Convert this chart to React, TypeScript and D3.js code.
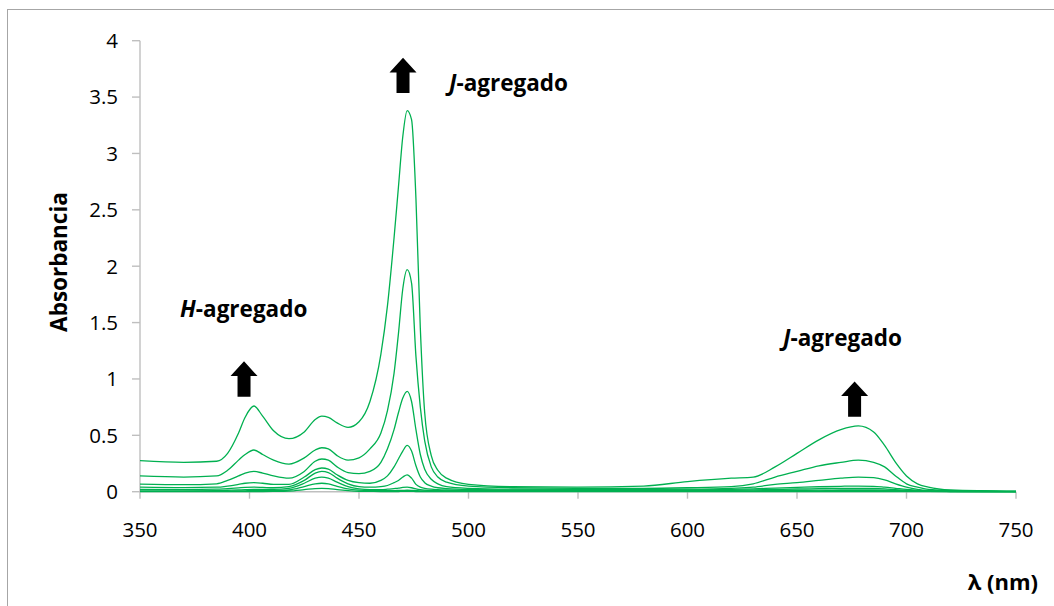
import React from "react";
import * as d3 from "d3";

const wavelengths = [350, 370, 385, 390, 395, 398, 402, 406, 411, 418, 425, 430, 433, 436, 440, 445, 450, 455, 460, 463, 466, 468, 470, 472, 474, 476, 478, 480, 483, 486, 490, 500, 520, 550, 580, 600, 620, 630, 640, 650, 660, 670, 678, 685, 690, 695, 700, 705, 710, 720, 750];

const s1 = [0.275, 0.26, 0.27, 0.34, 0.52, 0.66, 0.76, 0.67, 0.54, 0.47, 0.53, 0.64, 0.67, 0.66, 0.61, 0.57, 0.62, 0.8, 1.22, 1.65, 2.25, 2.7, 3.15, 3.38, 3.3, 2.6, 1.45, 0.7, 0.32, 0.19, 0.12, 0.065, 0.045, 0.04, 0.05, 0.09, 0.12, 0.13, 0.22, 0.34, 0.46, 0.55, 0.583, 0.53, 0.41, 0.26, 0.14, 0.07, 0.04, 0.015, 0.004];
const s2 = [0.14, 0.13, 0.14, 0.19, 0.28, 0.33, 0.37, 0.33, 0.28, 0.245, 0.3, 0.37, 0.39, 0.38, 0.32, 0.28, 0.3, 0.38, 0.52, 0.72, 1.05, 1.4, 1.8, 1.97, 1.85, 1.2, 0.75, 0.45, 0.22, 0.13, 0.085, 0.05, 0.035, 0.03, 0.03, 0.035, 0.045, 0.07, 0.13, 0.18, 0.23, 0.26, 0.28, 0.26, 0.22, 0.14, 0.07, 0.04, 0.02, 0.01, 0.003];
const s3 = [0.068, 0.062, 0.07, 0.1, 0.14, 0.165, 0.18, 0.165, 0.14, 0.12, 0.18, 0.27, 0.29, 0.28, 0.22, 0.17, 0.16, 0.18, 0.26, 0.38, 0.55, 0.7, 0.83, 0.89, 0.8, 0.55, 0.33, 0.2, 0.11, 0.07, 0.045, 0.03, 0.022, 0.02, 0.02, 0.022, 0.03, 0.04, 0.065, 0.08, 0.1, 0.12, 0.13, 0.125, 0.105, 0.07, 0.04, 0.02, 0.01, 0.005, 0.002];
const s4 = [0.04, 0.036, 0.04, 0.05, 0.065, 0.075, 0.08, 0.075, 0.065, 0.065, 0.13, 0.195, 0.21, 0.2, 0.15, 0.1, 0.08, 0.075, 0.1, 0.14, 0.22, 0.29, 0.36, 0.41, 0.36, 0.23, 0.13, 0.08, 0.05, 0.035, 0.028, 0.02, 0.016, 0.015, 0.015, 0.016, 0.02, 0.025, 0.032, 0.038, 0.044, 0.048, 0.05, 0.048, 0.04, 0.03, 0.02, 0.012, 0.008, 0.004, 0.001];
const s5 = [0.02, 0.018, 0.022, 0.028, 0.034, 0.038, 0.04, 0.038, 0.035, 0.045, 0.1, 0.165, 0.18, 0.17, 0.12, 0.07, 0.045, 0.04, 0.045, 0.055, 0.08, 0.1, 0.13, 0.15, 0.12, 0.065, 0.04, 0.03, 0.022, 0.018, 0.015, 0.012, 0.01, 0.01, 0.01, 0.011, 0.013, 0.016, 0.02, 0.024, 0.027, 0.03, 0.03, 0.029, 0.025, 0.018, 0.012, 0.007, 0.005, 0.003, 0.001];
const s6 = [0.008, 0.008, 0.01, 0.013, 0.016, 0.018, 0.02, 0.02, 0.02, 0.03, 0.075, 0.12, 0.13, 0.12, 0.085, 0.045, 0.025, 0.018, 0.018, 0.022, 0.028, 0.032, 0.038, 0.04, 0.035, 0.025, 0.018, 0.014, 0.011, 0.01, 0.008, 0.007, 0.006, 0.006, 0.006, 0.006, 0.007, 0.008, 0.01, 0.012, 0.014, 0.015, 0.016, 0.015, 0.013, 0.01, 0.007, 0.005, 0.003, 0.002, 0.001];
const s7 = [0.003, 0.003, 0.004, 0.005, 0.007, 0.008, 0.009, 0.009, 0.01, 0.015, 0.045, 0.07, 0.075, 0.07, 0.048, 0.025, 0.014, 0.01, 0.009, 0.009, 0.01, 0.011, 0.012, 0.013, 0.012, 0.01, 0.008, 0.007, 0.006, 0.005, 0.005, 0.004, 0.004, 0.004, 0.004, 0.004, 0.004, 0.005, 0.006, 0.007, 0.008, 0.009, 0.009, 0.009, 0.008, 0.006, 0.004, 0.003, 0.002, 0.001, 0];
const s8 = [0.001, 0.001, 0.001, 0.001, 0.002, 0.002, 0.002, 0.002, 0.003, 0.006, 0.018, 0.028, 0.03, 0.028, 0.018, 0.009, 0.004, 0.003, 0.002, 0.002, 0.002, 0.002, 0.003, 0.003, 0.003, 0.002, 0.002, 0.002, 0.001, 0.001, 0.001, 0.001, 0.001, 0.001, 0.001, 0.001, 0.001, 0.001, 0.001, 0.001, 0.001, 0.001, 0.001, 0.001, 0.001, 0.001, 0.001, 0.001, 0, 0, 0];

const seriesList = [s1, s2, s3, s4, s5, s6, s7, s8];

const xTicks = [350, 400, 450, 500, 550, 600, 650, 700, 750];
const yTicks = [0, 0.5, 1, 1.5, 2, 2.5, 3, 3.5, 4];
const yTickLabels = ["0", "0.5", "1", "1.5", "2", "2.5", "3", "3.5", "4"];

// annotations in data coordinates: [wavelength, absorbance]
const arrows = [
  [470.1, 3.536],
  [397.5, 0.843],
  [676.3, 0.665],
];
const labels = [
  { italic: "J", rest: "-agregado", x: 491.1, y: 3.554 },
  { italic: "H", rest: "-agregado", x: 368.3, y: 1.55 },
  { italic: "J", rest: "-agregado", x: 643.6, y: 1.292 },
];

const FONT = "'Open Sans', Lato, sans-serif";
const GREEN = "#00b050";
const AXIS = "#bfbfbf";

export default function App() {
  const x = d3.scaleLinear().domain([350, 750]).range([140, 1016]);
  const y = d3.scaleLinear().domain([0, 4]).range([491.7, 40.7]);
  const line = d3
    .line<number>()
    .x((_, i) => x(wavelengths[i]))
    .y((d) => y(d))
    .curve(d3.curveMonotoneX);

  const arrowPath = (cx: number, bottom: number) => {
    const top = bottom - 35.3;
    const hw = 13.5;
    const sw = 6.5;
    const hb = top + 14.7;
    return `M${cx},${top} L${cx + hw},${hb} L${cx + sw},${hb} L${cx + sw},${bottom} L${cx - sw},${bottom} L${cx - sw},${hb} L${cx - hw},${hb} Z`;
  };

  return (
    <svg
      width={1054}
      height={606}
      style={{ position: "absolute", left: 0, top: 0, display: "block", background: "#fff" }}
    >
      <rect x={7.5} y={9.5} width={1100} height={700} fill="#fff" stroke="#a6a6a6" strokeWidth={1} />
      {/* axes */}
      <line x1={x(350)} x2={x(350)} y1={y(4)} y2={y(0)} stroke={AXIS} strokeWidth={1.4} />
      <line x1={x(350)} x2={x(750)} y1={y(0)} y2={y(0)} stroke={AXIS} strokeWidth={1.4} />
      {yTicks.map((t, i) => (
        <g key={"yt" + i}>
          <line x1={x(350) - 8} x2={x(350)} y1={y(t)} y2={y(t)} stroke={AXIS} strokeWidth={1.4} />
          <text
            x={118}
            y={y(t)}
            dy="0.36em"
            textAnchor="end"
            fontFamily={FONT}
            fontSize={20.5}
            fill="#000"
          >
            {yTickLabels[i]}
          </text>
        </g>
      ))}
      {xTicks.map((t, i) => (
        <g key={"xt" + i}>
          <line x1={x(t)} x2={x(t)} y1={y(0)} y2={y(0) + 7} stroke={AXIS} strokeWidth={1.4} />
          <text x={x(t)} y={536.5} textAnchor="middle" fontFamily={FONT} fontSize={20.5} fill="#000">
            {t}
          </text>
        </g>
      ))}
      {/* series */}
      {seriesList.map((s, i) => (
        <path key={"s" + i} d={line(s) || ""} fill="none" stroke={GREEN} strokeWidth={1.3} />
      ))}
      {/* axis titles */}
      <text
        transform="translate(67,262) rotate(-90)"
        textAnchor="middle"
        fontFamily={FONT}
        fontWeight="bold"
        fontSize={22.5}
        fill="#000"
      >
        Absorbancia
      </text>
      <text x={1038} y={590} textAnchor="end" fontFamily={FONT} fontWeight="bold" fontSize={22} fill="#000">
        λ (nm)
      </text>
      {/* annotations */}
      {arrows.map((a, i) => (
        <path key={"a" + i} d={arrowPath(x(a[0]), y(a[1]))} fill="#000" />
      ))}
      {labels.map((l, i) => (
        <text key={"l" + i} x={x(l.x)} y={y(l.y)} fontFamily={FONT} fontWeight="bold" fontSize={22.5} fill="#000">
          <tspan fontStyle="italic">{l.italic}</tspan>
          {l.rest}
        </text>
      ))}
    </svg>
  );
}
